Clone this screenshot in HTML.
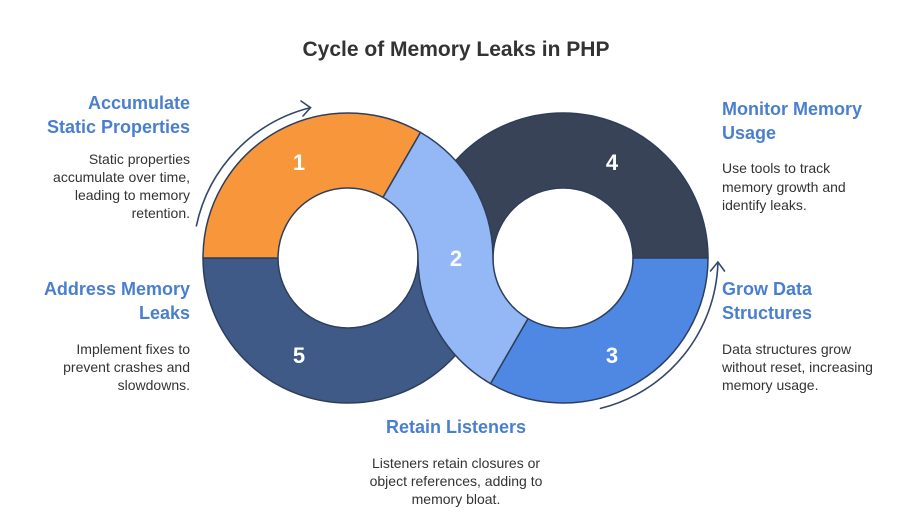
<!DOCTYPE html>
<html><head><meta charset="utf-8"><style>
html,body{margin:0;padding:0;background:#fff;}
svg{display:block;font-family:"Liberation Sans",sans-serif;}
.h{font-size:18px;font-weight:bold;fill:#4a7fd0;}
.b{font-size:14px;fill:#333;}
.n{font-size:22px;font-weight:bold;fill:#fff;text-anchor:middle;}
</style></head><body>
<svg width="919" height="522" viewBox="0 0 919 522">
<text x="456" y="56" text-anchor="middle" style="font-size:21px;font-weight:bold;fill:#333">Cycle of Memory Leaks in PHP</text>
<g stroke="#2d3e5c" stroke-width="1.5" stroke-linejoin="round">
<path d="M418,258 A145,145 0 0 1 708,258 L633,258 A70,70 0 0 0 493,258 Z" fill="#384357"/>
<path d="M493,258 A145,145 0 0 1 203,258 L278,258 A70,70 0 0 0 418,258 Z" fill="#3f5a86"/>
<path d="M203,258 A145,145 0 0 1 420.5,132.4 L383,197.4 A70,70 0 0 0 278,258 Z" fill="#f7963a"/>
<path d="M708,258 A145,145 0 0 1 490.5,383.6 L528,318.6 A70,70 0 0 0 633,258 Z" fill="#4e88e3"/>
<path d="M420.5,132.4 A145,145 0 0 1 493,258 A70,70 0 0 0 528,318.6 L490.5,383.6 A145,145 0 0 1 418,258 A70,70 0 0 0 383,197.4 Z" fill="#93b8f5"/>
</g>
<g fill="none" stroke="#34466a" stroke-width="1.6" stroke-linecap="round">
<path d="M196.4,225.8 A155,155 0 0 1 310.5,107.6"/>
<path d="M301,101 L310.5,107.6 L303,116"/>
<path d="M600.5,408.4 A155,155 0 0 0 717.9,263.4"/>
<path d="M710.5,271 L717.9,262 L724.5,271"/>
</g>
<text class="n" x="299" y="170">1</text>
<text class="n" x="612" y="170">4</text>
<text class="n" x="456" y="266">2</text>
<text class="n" x="299" y="363">5</text>
<text class="n" x="612" y="363">3</text>
<g text-anchor="end">
<text class="h" x="190" y="109">Accumulate</text>
<text class="h" x="190" y="133">Static Properties</text>
<text class="b" x="190" y="164">Static properties</text>
<text class="b" x="190" y="182">accumulate over time,</text>
<text class="b" x="190" y="200">leading to memory</text>
<text class="b" x="190" y="218">retention.</text>
<text class="h" x="190" y="295">Address Memory</text>
<text class="h" x="190" y="319">Leaks</text>
<text class="b" x="190" y="354">Implement fixes to</text>
<text class="b" x="190" y="372">prevent crashes and</text>
<text class="b" x="190" y="390">slowdowns.</text>
</g>
<text class="h" x="722" y="115">Monitor Memory</text>
<text class="h" x="722" y="139">Usage</text>
<text class="b" x="722" y="173">Use tools to track</text>
<text class="b" x="722" y="192">memory growth and</text>
<text class="b" x="722" y="210">identify leaks.</text>
<text class="h" x="722" y="295">Grow Data</text>
<text class="h" x="722" y="319">Structures</text>
<text class="b" x="722" y="354">Data structures grow</text>
<text class="b" x="722" y="372">without reset, increasing</text>
<text class="b" x="722" y="390">memory usage.</text>
<g text-anchor="middle">
<text class="h" x="456" y="433">Retain Listeners</text>
<text class="b" x="456" y="468">Listeners retain closures or</text>
<text class="b" x="456" y="486">object references, adding to</text>
<text class="b" x="456" y="504">memory bloat.</text>
</g>
</svg>
</body></html>
